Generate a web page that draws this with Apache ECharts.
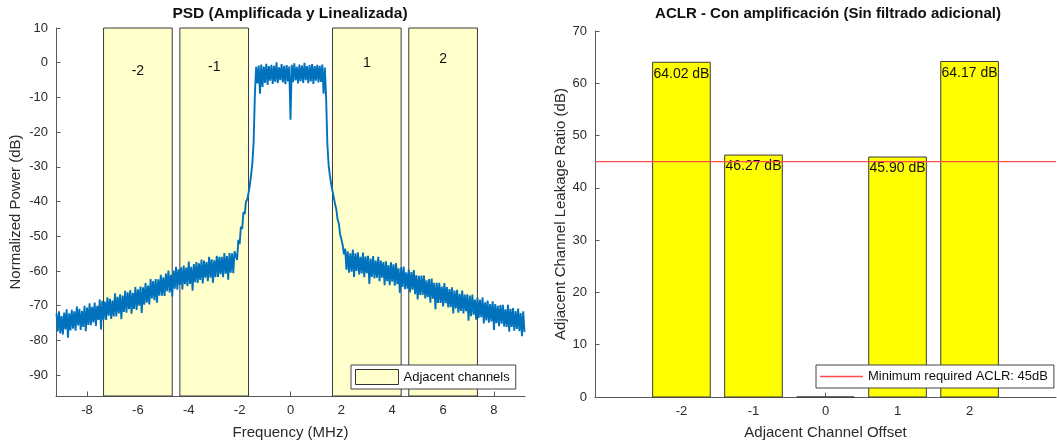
<!DOCTYPE html>
<html><head><meta charset="utf-8">
<script src="https://cdn.jsdelivr.net/npm/echarts@6/dist/echarts.min.js"></script>
<style>html,body{margin:0;padding:0;background:#fff;}#c{width:1057px;height:445px;}</style>
</head><body><div id="c"></div>
<script>
// ---------------- DATA ----------------
const freqStartMHz = -9.2;
const freqStepMHz = 0.05;
const psdDb = [
-72.2,-77.4,-71.6,-78.0,-73.0,-78.3,-72.0,-76.8,-71.0,-79.2,
-72.2,-77.1,-71.2,-76.6,-71.6,-77.2,-70.2,-75.7,-70.9,-77.0,
-71.5,-76.1,-70.0,-77.3,-70.5,-75.5,-69.3,-75.6,-70.3,-74.8,
-69.1,-75.8,-70.0,-74.1,-68.2,-76.8,-68.6,-74.0,-68.8,-74.1,
-67.6,-72.9,-68.0,-73.8,-68.5,-73.1,-66.4,-73.1,-67.4,-72.2,
-66.7,-73.9,-67.1,-71.8,-65.7,-72.0,-66.1,-71.0,-65.5,-72.3,
-66.3,-70.9,-64.6,-71.2,-65.3,-70.0,-64.5,-72.1,-64.7,-69.7,
-63.5,-69.1,-64.2,-69.6,-62.3,-67.9,-62.9,-68.4,-62.3,-69.1,
-62.4,-67.1,-61.1,-67.1,-61.8,-67.2,-60.7,-65.8,-59.9,-66.2,
-61.1,-67.3,-59.9,-65.1,-58.8,-65.4,-59.5,-64.0,-58.9,-65.3,
-58.4,-63.8,-59.0,-64.4,-57.3,-63.7,-58.8,-65.7,-58.0,-63.2,
-57.4,-63.4,-57.8,-62.6,-56.7,-63.6,-57.0,-61.9,-57.4,-62.9,
-55.9,-61.9,-56.6,-63.4,-56.9,-61.8,-55.6,-61.7,-55.9,-60.9,
-55.9,-61.8,-54.8,-60.8,-55.7,-62.5,-54.8,-60.5,-54.9,-60.6,
-54.3,
-54.2,-56.8,-51.0,-52.3,-47.2,-47.9,-43.0,-43.6,-40.0,-39.4,-37.5,-35.3,-32.4,-29.0,-23.0,-9.0,
-1.2,-6.0,-0.8,-8.9,-0.5,-7.0,-1.1,-5.8,-0.3,-6.4,
-1.0,-5.2,-0.6,-6.1,-0.9,-5.5,0.1,-5.9,-1.3,-5.0,
-0.4,-5.7,-0.9,-6.2,-0.7,-5.4,-1.1,-16.4,-0.6,-5.6,
-0.2,-5.1,-1.2,-6.0,-0.5,-5.3,-0.8,-5.8,0.0,-5.0,
-1.0,-5.9,-0.7,-5.4,-0.4,-6.1,-1.0,-5.2,-0.6,-5.7,
-0.9,-5.5,-0.5,-8.9,-1.4,
-10.0,-23.5,-29.5,-32.6,-35.0,-36.9,-38.8,-40.6,-42.2,-45.1,-46.3,-49.4,-50.8,-52.5,-55.2,-53.6,
-59.6,-54.3,-60.5,-54.9,-60.2,-53.8,-61.7,-54.9,-60.0,-54.6,
-61.0,-55.9,-60.7,-54.7,-61.8,-55.8,-60.6,-55.6,-63.7,-56.4,
-61.7,-55.7,-62.1,-57.0,-61.9,-55.9,-62.9,-57.0,-61.9,-57.4,
-64.1,-57.2,-62.9,-58.3,-64.1,-57.5,-63.1,-58.1,-64.2,-57.7,
-63.8,-59.2,-66.3,-58.9,-64.6,-58.7,-65.2,-60.4,-65.1,-59.6,
-66.2,-60.3,-65.4,-59.7,-66.7,-61.2,-68.2,-61.4,-66.9,-61.3,
-66.9,-61.3,-67.9,-62.7,-67.5,-62.3,-69.1,-62.2,-68.0,-63.4,
-71.0,-63.4,-69.2,-63.4,-69.2,-64.5,-70.2,-63.5,-69.3,-64.6,
-70.5,-65.2,-70.4,-64.7,-72.2,-65.6,-70.8,-65.4,-72.0,-66.6,
-71.5,-65.6,-72.2,-66.8,-71.6,-66.7,-74.3,-67.1,-73.0,-66.8,
-72.6,-68.2,-74.0,-67.6,-73.5,-68.3,-73.3,-67.6,-75.1,-69.0,
-74.2,-68.5,-74.9,-69.5,-74.5,-68.7,-77.0,-69.5,-75.0,-70.0,
-75.9,-69.8,-75.2,-69.7,-76.0,-71.0,-76.1,-69.7,-77.5,-70.9,
-76.1,-70.7,-77.2,-71.5,-76.7,-70.8,-77.3,-72.1,-78.8,-71.6,
-77.6
];
const channelLabels = ['-2', '-1', '1', '2'];
const channelCentersMHz = [-6, -3, 3, 6];
const channelWidthMHz = 2.7;
const channelLabelDb = [-2.5, -1.3, -0.1, 0.9];
const psdXLimits = [-9.22, 9.22];
const psdYLimits = [-96, 10];
const psdXTicks = [-8, -6, -4, -2, 0, 2, 4, 6, 8];
const psdYTicks = [-90, -80, -70, -60, -50, -40, -30, -20, -10, 0, 10];

const aclrOffsets = [-2, -1, 0, 1, 2];
const aclrDb = [64.02, 46.27, 0, 45.90, 64.17];
const aclrLimitDb = 45;
const aclrBarWidth = 0.8;
const aclrXLimits = [-3.2, 3.2];
const aclrYLimits = [0, 70];
const aclrXTicks = [-2, -1, 0, 1, 2];

// ---------------- CHART ----------------
const FONT = "'Liberation Sans', Arial, sans-serif";
const TXT = '#2b2b2b';
const AX = '#5a5a5a';
const RED = '#ff4d4d';

const psdPoints = psdDb.map((v, i) => [+(freqStartMHz + i * freqStepMHz).toFixed(3), v]);
const channelData = channelCentersMHz.map((c, i) => [c - channelWidthMHz / 2, c + channelWidthMHz / 2, channelLabelDb[i]]);
const barData = aclrOffsets.map((o, i) => [o, aclrDb[i]]);

function axisCommon(ticks) {
  return {
    axisLine: { show: true, onZero: false, lineStyle: { color: AX, width: 1 } },
    axisTick: { show: true, inside: true, length: 4.5, lineStyle: { color: AX }, customValues: ticks },
    axisLabel: { color: TXT, fontSize: 13, fontFamily: FONT, customValues: ticks },
    splitLine: { show: false },
    nameTextStyle: { color: TXT, fontSize: 15, fontFamily: FONT }
  };
}

const chart = echarts.init(document.getElementById('c'), null, { renderer: 'canvas' });
chart.setOption({
  animation: false,
  backgroundColor: '#fff',
  textStyle: { fontFamily: FONT },
  grid: [
    { left: 56, top: 28, width: 469, height: 371 },
    { left: 595, top: 31, width: 461, height: 368 }
  ],
  xAxis: [
    Object.assign(axisCommon(psdXTicks), {
      type: 'value', gridIndex: 0, min: psdXLimits[0], max: psdXLimits[1],
      name: 'Frequency (MHz)', nameLocation: 'middle', nameGap: 29
    }),
    Object.assign(axisCommon(aclrXTicks), {
      type: 'value', gridIndex: 1, min: aclrXLimits[0], max: aclrXLimits[1],
      name: 'Adjacent Channel Offset', nameLocation: 'middle', nameGap: 28
    })
  ],
  yAxis: [
    Object.assign(axisCommon(psdYTicks), {
      type: 'value', gridIndex: 0, min: psdYLimits[0], max: psdYLimits[1],
      name: 'Normalized Power (dB)', nameLocation: 'middle', nameGap: 33
    }),
    Object.assign(axisCommon(undefined), {
      type: 'value', gridIndex: 1, min: aclrYLimits[0], max: aclrYLimits[1], interval: 10,
      name: 'Adjacent Channel Leakage Ratio (dB)', nameLocation: 'middle', nameGap: 26
    })
  ],
  legend: [
    {
      left: 351, top: 365, orient: 'horizontal', selectedMode: false,
      padding: [4, 6, 4, 4], itemWidth: 43, itemHeight: 15,
      backgroundColor: '#fff', borderColor: '#444', borderWidth: 1, borderRadius: 0,
      textStyle: { fontSize: 13, color: '#111', fontFamily: FONT },
      data: [{ name: 'Adjacent channels', icon: 'rect', itemStyle: { color: '#FFFFCC', borderColor: '#333', borderWidth: 1 } }]
    },
    {
      left: 816, top: 365, orient: 'horizontal', selectedMode: false,
      padding: [4, 6, 4, 4], itemWidth: 43, itemHeight: 1.3,
      backgroundColor: '#fff', borderColor: '#444', borderWidth: 1, borderRadius: 0,
      textStyle: { fontSize: 13, color: '#111', fontFamily: FONT, lineHeight: 15 },
      data: [{ name: 'Minimum required ACLR: 45dB', icon: 'rect', itemStyle: { color: RED, borderWidth: 0 } }]
    }
  ],
  graphic: [
    { type: 'text', x: 290, y: 14, z: 10, style: { text: 'PSD (Amplificada y Linealizada)', fontSize: 15.5, fontWeight: 'bold', fontFamily: FONT, fill: '#111', align: 'center', verticalAlign: 'middle', textAlign: 'center', textVerticalAlign: 'middle' } },
    { type: 'text', x: 828, y: 14, z: 10, style: { text: 'ACLR - Con amplificación (Sin filtrado adicional)', fontSize: 15, fontWeight: 'bold', fontFamily: FONT, fill: '#111', align: 'center', verticalAlign: 'middle', textAlign: 'center', textVerticalAlign: 'middle' } }
  ],
  series: [
    {
      name: 'Adjacent channels', type: 'custom', xAxisIndex: 0, yAxisIndex: 0, z: 1,
      itemStyle: { color: '#FFFFCC', borderColor: '#333', borderWidth: 1 },
      data: channelData,
      renderItem: function (params, api) {
        const x0 = api.value(0), x1 = api.value(1), ly = api.value(2);
        const pTop = api.coord([x0, psdYLimits[1]]);
        const pBot = api.coord([x1, psdYLimits[0]]);
        const pLab = api.coord([(x0 + x1) / 2, ly]);
        return {
          type: 'group', children: [
            { type: 'rect', shape: { x: pTop[0], y: pTop[1], width: pBot[0] - pTop[0], height: pBot[1] - pTop[1] },
              style: { fill: '#FFFFCC', stroke: '#3a3a3a', lineWidth: 1 } },
            { type: 'text', x: pLab[0], y: pLab[1], z2: 5,
              style: { text: channelLabels[params.dataIndex], fontSize: 14, fontFamily: FONT, fill: '#111', align: 'center', verticalAlign: 'middle' } }
          ]
        };
      }
    },
    {
      name: 'PSD', type: 'line', xAxisIndex: 0, yAxisIndex: 0, z: 3,
      data: psdPoints, showSymbol: false, symbol: 'none', sampling: null, clip: true,
      lineStyle: { color: '#0072BD', width: 1.9, join: 'bevel' }, itemStyle: { color: '#0072BD' }
    },
    {
      name: 'ACLR', type: 'custom', xAxisIndex: 1, yAxisIndex: 1, z: 2,
      data: barData,
      renderItem: function (params, api) {
        const x = api.value(0), v = api.value(1);
        const tl = api.coord([x - aclrBarWidth / 2, v]);
        const br = api.coord([x + aclrBarWidth / 2, 0]);
        const ch = [{ type: 'rect', shape: { x: tl[0], y: tl[1], width: br[0] - tl[0], height: br[1] - tl[1] },
          style: { fill: '#FFFF00', stroke: '#3a3a3a', lineWidth: 1 } }];
        if (v > 0) {
          ch.push({ type: 'text', x: (tl[0] + br[0]) / 2, y: tl[1] + 11.5, z2: 5,
            style: { text: v.toFixed(2) + ' dB', fontSize: 14, fontFamily: FONT, fill: '#111', align: 'center', verticalAlign: 'middle' } });
        }
        return { type: 'group', children: ch };
      }
    },
    {
      name: 'Minimum required ACLR: 45dB', type: 'custom', xAxisIndex: 1, yAxisIndex: 1, z: 4,
      itemStyle: { color: RED },
      data: [[aclrLimitDb]],
      renderItem: function (params, api) {
        const v = api.value(0);
        const p0 = api.coord([aclrXLimits[0], v]);
        const p1 = api.coord([aclrXLimits[1], v]);
        return { type: 'line', shape: { x1: p0[0], y1: p0[1], x2: p1[0], y2: p1[1] },
                 style: { stroke: RED, lineWidth: 1.2 } };
      }
    }
  ]
});
</script></body></html>
